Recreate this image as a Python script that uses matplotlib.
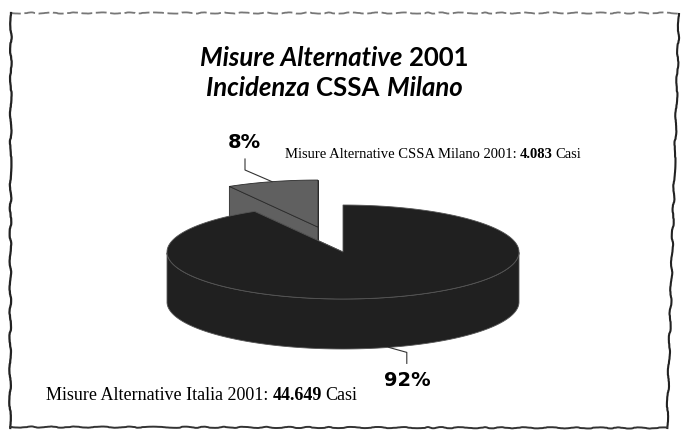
import matplotlib.pyplot as plt
import numpy as np
from matplotlib.patches import Polygon

# dati
valori = [44649, 4083]
etichette = ["Misure Alternative Italia 2001:", "Misure Alternative CSSA Milano 2001:"]
casi = ["44.649", "4.083"]
colori = ["#202020", "#606060"]
esplodi = [0.0, 0.55]

fig = plt.figure(figsize=(6.83, 4.33), dpi=100)
ax = fig.add_axes([0, 0, 1, 1])
ax.set_xlim(0, 683)
ax.set_ylim(433, 0)
ax.axis('off')

# geometria della torta 3D (in pixel)
cx, cy, rx, ry, prof = 343, 252, 176, 47, 50

totale = float(sum(valori))
ang_mil = 360.0 * valori[1] / totale
# fetta Milano a sinistra delle ore 12, Italia il resto
angoli = [(90 + ang_mil, 450), (90, 90 + ang_mil)]


def offset(a1, a2, e):
    m = np.radians((a1 + a2) / 2.0)
    return e * rx * np.cos(m), -e * ry * np.sin(m)


def fetta(a1, a2, ox, oy, colore, bordo):
    t = np.radians(np.linspace(a1, a2, 300))
    xs = cx + ox + rx * np.cos(t)
    ys = cy + oy - ry * np.sin(t)
    c = (cx + ox, cy + oy)
    # facce di taglio
    for a in (a1, a2):
        p = (cx + ox + rx * np.cos(np.radians(a)), cy + oy - ry * np.sin(np.radians(a)))
        ax.add_patch(Polygon([c, p, (p[0], p[1] + prof), (c[0], c[1] + prof)],
                             closed=True, fc=colore, ec=bordo, lw=0.6))
    # lato esterno (solo la parte davanti)
    m = np.sin(t) < 0
    if m.any():
        xf, yf = xs[m], ys[m]
        pts = list(zip(xf, yf)) + list(zip(xf[::-1], yf[::-1] + prof))
        ax.add_patch(Polygon(pts, closed=True, fc=colore, ec=bordo, lw=0.6))
    # faccia superiore
    pts = [c] + list(zip(xs, ys))
    ax.add_patch(Polygon(pts, closed=True, fc=colore, ec=bordo, lw=0.6))


# prima la fetta dietro (Milano), poi Italia
ordine = [1, 0]
bordi = ["#555555", "#2a2a2a"]
for i in ordine:
    a1, a2 = angoli[i]
    ox, oy = offset(a1, a2, esplodi[i])
    fetta(a1, a2, ox, oy, colori[i], bordi[i])

# percentuali e linee guida
perc = [round(100 * v / totale) for v in valori]
a1, a2 = angoli[1]
ox, oy = offset(a1, a2, esplodi[1])
mm = np.radians((a1 + a2) / 2)
px, py = cx + ox + rx * np.cos(mm), cy + oy - ry * np.sin(mm)
ax.plot([245, 245, px], [159, 170, py], color='#333333', lw=0.8)
ax.text(244, 142, "%d%%" % perc[1], ha='center', va='center', fontsize=14,
        fontweight='bold', family='DejaVu Sans')

a1, a2 = angoli[0]
mm = np.radians((a1 + a2) / 2)
px, py = cx + rx * np.cos(mm), cy - ry * np.sin(mm) + prof
ax.plot([px, px + 18, px + 18], [py, py + 5, py + 16], color='#333333', lw=0.8)
ax.text(407, 381, "%d%%" % perc[0], ha='center', va='center', fontsize=14,
        fontweight='bold', family='DejaVu Sans')

rend = fig.canvas.get_renderer()


def scrivi(pezzi, x, y, centro=False, spazio=4):
    testi = []
    for s, kw in pezzi:
        testi.append(ax.text(0, y, s, va='baseline', **kw))
    larg = [t.get_window_extent(rend).width for t in testi]
    tot = sum(larg) + spazio * (len(larg) - 1)
    if centro:
        x = x - tot / 2.0
    for t, w in zip(testi, larg):
        t.set_x(x)
        x += w + spazio


# titolo
tit = dict(family='Lato', fontsize=18.5, fontweight='bold')
scrivi([("Misure Alternative", dict(tit, style='italic')), ("2001", tit)], 334, 66, centro=True, spazio=7)
scrivi([("Incidenza", dict(tit, style='italic')), ("CSSA", tit), ("Milano", dict(tit, style='italic'))],
       334, 96, centro=True, spazio=7)

# etichette serie
ser = dict(family='Liberation Serif', fontsize=10.5)
scrivi([(etichette[1], ser), (casi[1], dict(ser, fontweight='bold')), ("Casi", ser)], 285, 158, spazio=3)
ser2 = dict(family='Liberation Serif', fontsize=13)
scrivi([(etichette[0], ser2), (casi[0], dict(ser2, fontweight='bold')), ("Casi", ser2)], 46, 400, spazio=4)

# cornice disegnata a mano
sopra, = ax.plot([10, 680], [13, 13], color='#777777', lw=1.3, ls=(0, (6, 2)))
sopra.set_sketch_params(0.6, 40, 6)
sx, = ax.plot([11, 10], [13, 428], color='#222222', lw=1.6)
sx.set_sketch_params(0.8, 50, 6)
dx, = ax.plot([679, 667], [14, 428], color='#222222', lw=1.5)
dx.set_sketch_params(0.8, 50, 6)
sotto, = ax.plot([10, 667], [427, 428], color='#333333', lw=1.4)
sotto.set_sketch_params(0.6, 40, 6)

fig.savefig("out.png", dpi=100)
